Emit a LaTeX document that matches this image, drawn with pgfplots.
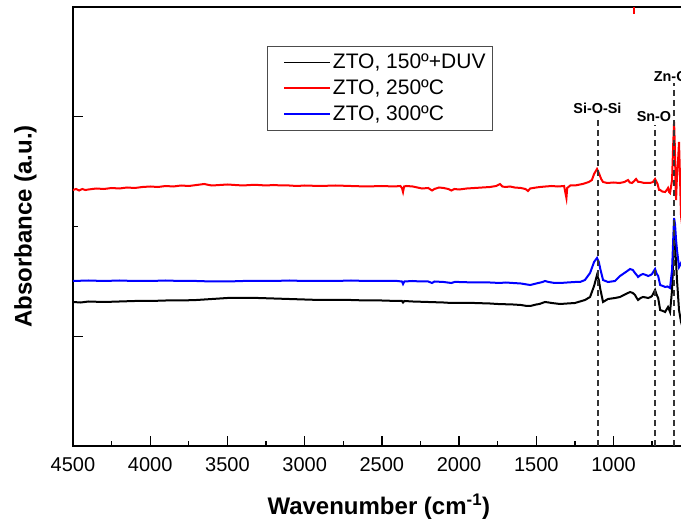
\documentclass[border=0pt]{standalone}
\usepackage{fontspec}
\setmainfont{Liberation Sans}
\usepackage{pgfplots}
\pgfplotsset{compat=1.18}

\begin{document}
\begin{tikzpicture}
\path[use as bounding box] (0,0) rectangle (681pt,525pt);
\clip (0,0) rectangle (681pt,525pt);
\begin{axis}[
    at={(73pt,79pt)}, anchor=south west,
    scale only axis, width=633.2pt, height=439pt,
    x dir=reverse,
    xmin=400, xmax=4500, ymin=0, ymax=439,
    xtick={1000,1500,...,4500},
    minor xtick={750,1250,...,4250},
    ytick={109.75,329.25}, minor ytick={219.5},
    yticklabels={},
    tick pos=left, tick align=inside,
    major tick length=10pt, minor tick length=5pt,
    every tick/.style={black, line width=1.3pt},
    axis line style={line width=1.8pt},
    /pgf/number format/1000 sep={},
    /pgf/number format/assume math mode=true,
    xticklabel style={font=\fontsize{20}{24}\selectfont, yshift=-8pt},
    xlabel={Wavenumber (cm\textsuperscript{-1})},
    ylabel={Absorbance (a.u.)},
    label style={font=\fontsize{24}{28}\selectfont\bfseries},
    xlabel style={at={(ticklabel cs:0.483)}, anchor=near ticklabel},
    xlabel shift=15pt,
    ylabel shift=26pt,
    legend style={at={(axis description cs:0.3063,0.911)}, anchor=north west,
        draw=black!70, fill=white, row sep=5.5pt,
        font=\fontsize{21}{24}\selectfont, inner xsep=5pt, inner ysep=6pt},
    legend cell align=left,
    every axis plot/.append style={line width=2pt,
        legend image code/.code={\path[draw=none] (0pt,0pt) -- (12pt,0pt);
            \draw[#1, line width=1.6pt] (12pt,0pt) -- (58pt,0pt);}},
]
\addplot[black] coordinates {
(4500,144)(4450,143.5)(4400,144.5)(4300,144)(4200,144.5)(4100,145)(4000,145)
(3900,145.5)(3800,145.5)(3700,146)(3600,147)(3500,148)(3400,148)(3300,148)
(3200,147.5)(3100,147)(3000,146.5)(2900,146)(2800,146)(2700,146)(2600,145.5)
(2500,145.5)(2400,145)(2370,145)(2363,143.5)(2355,145)(2300,144.5)(2200,144)
(2100,143.5)(2050,143)(1950,143)(1900,143)(1800,142.5)(1750,142)(1650,141.5)
(1600,141)(1560,140)(1540,140)(1500,141.5)(1480,142)(1444,144)(1420,143.5)
(1400,143)(1346,142)(1300,142.5)(1250,143)(1185,146)(1152,149)(1126,160)
(1107,171)(1095,166)(1087,158)(1068,144)(1036,147)(990,148)(958,149)(920,152)
(893,154)(875,153)(861,151)(850,148)(841,146)(825,148)(809,149)(790,148.5)
(776,148)(760,149)(751,150)(731,156)(720,151)(711,148)(698,136)(680,135)
(666,134)(655,137)(647,139)(634,134)(621,156)(614,185)(608,210)(602,200)
(595,184)(589,166)(576,136)(563,124)(555,120)
};
\addlegendentry{ZTO, 150º+DUV}
\addplot[red] coordinates {
(4500,256)(4480,257)(4460,255.5)(4440,257)(4420,256)(4400,256.5)(4350,257.5)
(4300,257)(4250,258)(4200,257.5)(4150,258.5)(4100,258)(4050,259)(4000,259.5)
(3950,259)(3900,260)(3850,259.5)(3800,260.5)(3750,260)(3700,261)(3650,262)
(3620,261)(3600,260.5)(3550,261)(3500,261.5)(3450,261)(3400,260.5)(3350,261)
(3300,261)(3250,260.5)(3200,261)(3150,260.5)(3100,260.5)(3050,260)(3000,260.5)
(2900,260)(2800,260.5)(2700,260)(2600,259.5)(2500,260)(2420,259.5)(2380,260)
(2370,258)(2363,254)(2356,259.5)(2340,260)(2300,259.5)(2270,258.5)(2240,257.5)
(2200,258)(2175,255.5)(2160,257)(2130,258.5)(2100,258)(2070,257)(2050,255.5)
(2030,257)(2000,256.5)(1950,257.5)(1900,258)(1850,258.5)(1800,259)(1760,260)
(1735,262)(1720,259.5)(1700,259)(1670,259.5)(1640,258.5)(1600,258)(1570,257)
(1554,255)(1540,257.5)(1500,258.5)(1476,259)(1440,259.5)(1400,260)(1360,259.5)
(1320,260)(1310,252)(1305,248)(1300,258)(1280,260.5)(1250,260.5)(1200,262)
(1160,264)(1140,266)(1126,272)(1107,277)(1095,273)(1080,267)(1068,264)
(1040,263)(1000,263.5)(960,263)(930,264)(906,266)(895,263.5)(880,263)(866,265)
(854,267)(840,264)(828,264)(800,263)(764,263)(745,264)(731,267)(715,262)
(705,256)(698,256)(685,254.5)(666,254)(655,256)(647,258)(640,254)(634,253)
(627,260)(621,266)(614,300)(608,324)(603,300)(598,260)(595,246)(589,271)
(582,286)(576,304)(569,266)(563,230)(555,220)
};
\addlegendentry{ZTO, 250ºC}
\addplot[blue] coordinates {
(4500,165)(4400,165.5)(4300,165)(4200,165.5)(4100,165)(4000,165)(3900,165.5)
(3800,165)(3700,165)(3600,164.5)(3500,164.5)(3400,165)(3300,165)(3200,165)
(3100,165.5)(3000,165)(2900,165)(2800,165)(2700,165.5)(2600,165)(2500,165)
(2400,165)(2370,164.5)(2363,162)(2355,164.5)(2300,165)(2250,164.5)(2200,164.5)
(2175,163)(2160,164.5)(2100,164)(2050,163)(2030,164)(2000,164)(1900,163.5)
(1800,163.5)(1735,163)(1700,163.5)(1600,162.5)(1540,161)(1500,162.5)(1460,164)
(1444,165)(1420,164)(1380,163)(1346,163)(1300,163.5)(1250,164)(1217,164)
(1185,166)(1152,173)(1126,184)(1107,188)(1095,184)(1087,178)(1068,166)
(1036,164)(990,165)(958,170)(920,174)(893,177)(875,176)(861,173)(845,170)
(841,169)(825,171)(809,172)(790,171)(776,170)(760,171)(751,172)(731,177)
(720,172)(711,170)(698,161)(680,160)(666,159)(650,159.5)(634,158)(621,176)
(614,205)(608,228)(602,222)(595,206)(589,196)(576,179)(563,183)(555,180)
};
\addlegendentry{ZTO, 300ºC}
\addplot[red, forget plot] coordinates {(867,432)(867,439)};
\addplot[forget plot, black!80, line width=1.3pt, dash pattern=on 6pt off 4pt]
    coordinates {(1100,0)(1100,329)};
\addplot[forget plot, black!80, line width=1.3pt, dash pattern=on 6pt off 4pt]
    coordinates {(731,0)(731,321)};
\addplot[forget plot, black!80, line width=1.3pt, dash pattern=on 6pt off 4pt]
    coordinates {(608,0)(608,363)};
\node[font=\fontsize{14.4}{17}\selectfont\bfseries] at (axis cs:1104,338) {Si-O-Si};
\node[font=\fontsize{14.4}{17}\selectfont\bfseries] at (axis cs:738,329) {Sn-O};
\node[font=\fontsize{14.4}{17}\selectfont\bfseries] at (axis cs:630,369) {Zn-O};
\end{axis}
\end{tikzpicture}
\end{document}
